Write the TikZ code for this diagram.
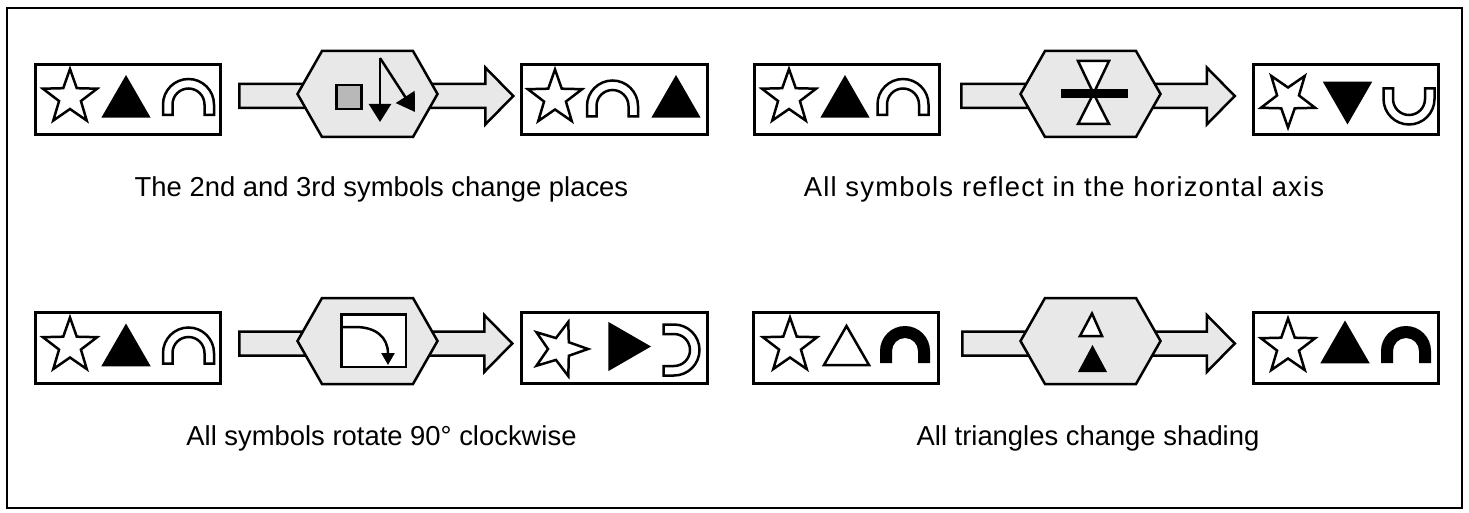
\documentclass[tikz,border=0pt]{standalone}
\usepackage{fontspec}
\setmainfont{Liberation Sans}
\usetikzlibrary{arrows.meta,calc}

\definecolor{hexgray}{gray}{0.91}
\definecolor{sqgray}{gray}{0.72}

\tikzset{
  symbox/.style={draw,line width=3pt,minimum width=185.5pt,minimum height=70.5pt,inner sep=0pt},
  hexfill/.style={draw,line width=2.5pt,fill=hexgray,line join=miter},
  blockarr/.style={draw,line width=2.5pt,fill=hexgray,line join=miter},
  symline/.style={line width=2.5pt,line join=miter},
  caption/.style={font=\fontsize{27.4}{33}\selectfont,anchor=base},
  pics/starsym/.style={code={
    \draw[symline,fill=white] (90:28.5) \foreach \k in {0,...,4}{ -- ({126+72*\k}:11.5) -- ({162+72*\k}:28.5) } -- cycle;}},
  pics/tri/.style={code={
    \filldraw[symline,fill=#1] (-22.5,-19.5) -- (22.5,-19.5) -- (0,19.5) -- cycle;}},
  pics/arch/.style={code={
    \draw[symline,fill=white] (-25.5,-10.5) -- (-25.5,0) arc[start angle=180,end angle=0,radius=25.5]
      -- (25.5,-10.5) -- (16,-10.5) -- (16,0) arc[start angle=0,end angle=180,radius=16] -- (-16,-10.5) -- cycle;}},
  pics/solidarch/.style={code={
    \fill (-25,-12) -- (-25,0) arc[start angle=180,end angle=0,radius=25]
      -- (25,-12) -- (13,-12) -- (13,0) arc[start angle=0,end angle=180,radius=13] -- (-13,-12) -- cycle;}},
  pics/hexagon/.style={code={
    \draw[hexfill] (-70,0) -- (-45.5,43) -- (45.5,43) -- (70,0) -- (45.5,-43) -- (-45.5,-43) -- cycle;}}
}

\newcommand{\blockarrow}[2]{%
  \draw[blockarr] ($(#1)+(0,12)$) -- ($(#2)+(-28,12)$) -- ($(#2)+(-28,28.5)$) -- (#2)
    -- ($(#2)+(-28,-28.5)$) -- ($(#2)+(-28,-12)$) -- ($(#1)+(0,-12)$) -- cycle;}

\begin{document}
\begin{tikzpicture}[x=1pt,y=1pt]
  \useasboundingbox (0,0) rectangle (1469,512);
  \draw[line width=2.5pt] (7,4) rectangle (1462,504);

  % symbol boxes
  \node[symbox] (l1) at (128,412.5) {};
  \node[symbox] (r1) at (614.5,412.5) {};
  \node[symbox] (l2) at (847,412.5) {};
  \node[symbox] (r2) at (1346,412.5) {};
  \node[symbox] (l3) at (128,164) {};
  \node[symbox] (r3) at (614.5,164) {};
  \node[symbox] (l4) at (846,164) {};
  \node[symbox] (r4) at (1346,164) {};

  % arrow ends and hexagon centres
  \coordinate (a1) at ([xshift=17pt,yshift=3.5pt]l1.east);
  \coordinate (t1) at ([xshift=-7pt,yshift=3.5pt]r1.west);
  \coordinate (a2) at ([xshift=20pt,yshift=3.5pt]l2.east);
  \coordinate (t2) at ([xshift=-17pt,yshift=3.5pt]r2.west);
  \coordinate (a3) at ([xshift=17pt,yshift=4.5pt]l3.east);
  \coordinate (t3) at ([xshift=-8pt,yshift=4.5pt]r3.west);
  \coordinate (a4) at ([xshift=22pt,yshift=4.5pt]l4.east);
  \coordinate (t4) at ([xshift=-17pt,yshift=4.5pt]r4.west);
  \coordinate (h1) at (367.5,418);
  \coordinate (h2) at (1090.5,418);
  \coordinate (h3) at (367.5,171);
  \coordinate (h4) at (1090.5,171);

  \blockarrow{a1}{t1}
  \blockarrow{a2}{t2}
  \blockarrow{a3}{t3}
  \blockarrow{a4}{t4}
  \foreach \h in {h1,h2,h3,h4}
    \pic at (\h) {hexagon};

  % hexagon contents
  \begin{scope}[shift={(h1)}]
    \filldraw[symline,fill=sqgray] (-31,-15) rectangle (-6,9);
    \draw[line width=2.5pt,-{Triangle[length=18pt,width=22pt]}] (12.5,36) -- (12.5,-28);
    \draw[line width=2.5pt,-{Triangle[length=18pt,width=22pt]}] (12.5,36) -- (47.5,-18);
  \end{scope}
  \begin{scope}[shift={(h2)}]
    \filldraw[symline,fill=white] (-12.5,33) -- (18.5,33) -- (3,0.5) -- cycle;
    \filldraw[symline,fill=white] (-12.5,-30) -- (18.5,-30) -- (3,0.5) -- cycle;
    \fill (-29.5,-4) rectangle (37.5,5);
  \end{scope}
  \begin{scope}[shift={(h3)}]
    \filldraw[line width=2.5pt,fill=white] (-26.25,-25.75) rectangle (38.25,26.75);
    \draw[symline,-{Triangle[length=12pt,width=13pt]}] (-26,14) -- (-12,14)
      .. controls (8,14) and (20.5,4) .. (20.5,-24);
  \end{scope}
  \begin{scope}[shift={(h4)}]
    \filldraw[symline,fill=white] (-10.5,5) -- (11.5,5) -- (1.5,27.5) -- cycle;
    \fill (-12.5,-31) -- (16.5,-31) -- (2,-4) -- cycle;
  \end{scope}

  % box symbols
  \foreach \b/\ax in {l1/60.5,l2/56,l3/60.5} {
    \pic at ($(\b)+(-58,2)$) {starsym};
    \pic at ($(\b)+(-2,2.5)$) {tri=black};
    \pic at ($(\b)+(\ax,-5)$) {arch};
  }
  \pic at ($(r1)+(-59.5,1.5)$) {starsym};
  \pic at ($(r1)+(-2,-6.5)$) {arch};
  \pic at ($(r1)+(61.5,2.5)$) {tri=black};

  \pic[rotate=180] at ($(r2)+(-58,0.5)$) {starsym};
  \pic[rotate=180] at ($(r2)+(1.5,-3)$) {tri=black};
  \pic[rotate=180] at ($(r2)+(63,0.5)$) {arch};

  \pic[rotate=-90] at ($(r3)+(-55,-1)$) {starsym};
  \pic[rotate=-90] at ($(r3)+(14.5,1.5)$) {tri=black};
  \pic[rotate=-90] at ($(r3)+(59.5,-2)$) {arch};

  \pic at ($(l4)+(-56,2)$) {starsym};
  \pic at ($(l4)+(0.5,2.5)$) {tri=white};
  \pic at ($(l4)+(59,-3)$) {solidarch};

  \pic at ($(r4)+(-58,1)$) {starsym};
  \pic at ($(r4)+(-1,5.5)$) {tri=black};
  \pic at ($(r4)+(60,-3)$) {solidarch};

  % captions
  \node[caption] (c1) at (381.5,315) {The 2nd and 3rd symbols change places};
  \node[caption] (c2) at (1064,315) {\addfontfeature{LetterSpace=4.4}All symbols reflect in the horizontal axis};
  \node[caption] (c3) at (381.5,67) {All symbols rotate 90° clockwise};
  \node[caption] (c4) at (1088,67) {All triangles change shading};
\end{tikzpicture}
\end{document}
